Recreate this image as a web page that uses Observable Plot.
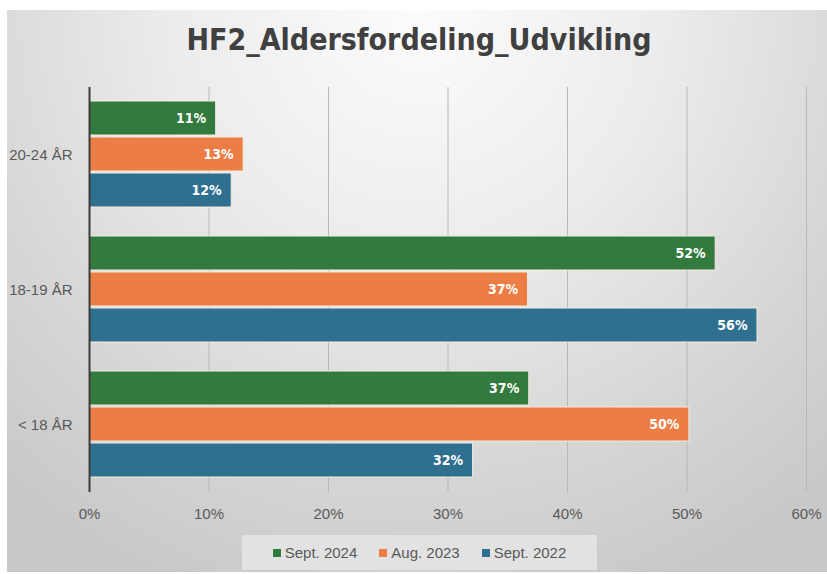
<!DOCTYPE html>
<html>
<head>
<meta charset="utf-8">
<script src="https://cdn.jsdelivr.net/npm/d3@7"></script>
<script src="https://cdn.jsdelivr.net/npm/@observablehq/plot@0.6"></script>
<style>
  html, body { margin: 0; padding: 0; background: #ffffff; }
  #wrap { position: relative; width: 827px; height: 574px; overflow: hidden; font-family: "Liberation Sans", Arial, sans-serif; }
  #panel { position: absolute; left: 7px; top: 10px; width: 820px; height: 562px;
    background: radial-gradient(ellipse 75% 110% at 50% 0%, #fcfcfc 0%, #ececec 40%, #d6d6d6 75%, #c9c9c9 100%); }
  #title { position: absolute; left: 0; width: 838px; top: 22px; text-align: center; font-family: "DejaVu Sans Condensed", "Liberation Sans Narrow", sans-serif; font-size: 30px; font-weight: bold; color: #404040; }
  #chart { position: absolute; left: 0; top: 80px; }
  #legend { position: absolute; left: 242px; top: 535px; width: 355px; height: 35px; background: #e2e2e2; display: flex; align-items: center; justify-content: center; gap: 22px; font-size: 15px; color: #595959; }
  #legend .item { display: flex; align-items: center; gap: 4px; }
  #legend .sw { width: 8px; height: 8px; display: inline-block; }
</style>
</head>
<body>
<div id="wrap">
  <div id="panel"></div>
  <div id="title">HF2_Aldersfordeling_Udvikling</div>
  <div id="chart"></div>
  <div id="legend"></div>
</div>
<script>
const categories = ["20-24 ÅR", "18-19 ÅR", "< 18 ÅR"];
const series = ["Sept. 2024", "Aug. 2023", "Sept. 2022"];
const sept2024 = [0.106, 0.524, 0.368];
const aug2023 = [0.129, 0.367, 0.502];
const sept2022 = [0.119, 0.559, 0.321];
const xTicks = [0, 0.1, 0.2, 0.3, 0.4, 0.5, 0.6];
const colors = ["#327a3e", "#ec7d44", "#2f6f8f"];

const seriesValues = [sept2024, aug2023, sept2022];
const rows = [];
categories.forEach((c, i) => {
  series.forEach((s, j) => rows.push({category: c, series: s, value: seriesValues[j][i]}));
});
const pct = d3.format(".0%");

const plot = Plot.plot({
  width: 827,
  height: 450,
  marginTop: 7,
  marginBottom: 38,
  marginLeft: 89,
  marginRight: 21,
  style: {background: "transparent", fontSize: "15px", color: "#595959", fontFamily: "'Liberation Sans', Arial, sans-serif"},
  facet: {data: rows, y: "category"},
  fy: {domain: categories, padding: 0, label: null, axis: "left", tickSize: 0, tickPadding: 17},
  y: {domain: series, paddingInner: 0.055, paddingOuter: 0.377, axis: null},
  x: {domain: [0, 0.6], ticks: xTicks, tickFormat: pct, tickSize: 0, tickPadding: 16, label: null},
  color: {domain: series, range: colors},
  marks: [
    Plot.ruleX(xTicks.slice(1), {stroke: "#b8b8b8", strokeWidth: 1}),
    Plot.barX(rows, {x: "value", y: "series", fill: "series", stroke: "#f3ecdf", strokeWidth: 1}),
    Plot.text(rows, {x: "value", y: "series", text: d => pct(d.value), textAnchor: "end", dx: -10, fill: "white", fontWeight: "bold", fontSize: 14, fontFamily: "'DejaVu Sans Condensed', sans-serif"}),
    Plot.ruleX([0], {stroke: "#3a3a3a", strokeWidth: 2})
  ]
});
document.getElementById("chart").appendChild(plot);

const legend = document.getElementById("legend");
series.forEach((s, i) => {
  const it = document.createElement("div");
  it.className = "item";
  const sw = document.createElement("span");
  sw.className = "sw";
  sw.style.background = colors[i];
  const t = document.createElement("span");
  t.textContent = s;
  it.appendChild(sw); it.appendChild(t);
  legend.appendChild(it);
});
</script>
</body>
</html>
